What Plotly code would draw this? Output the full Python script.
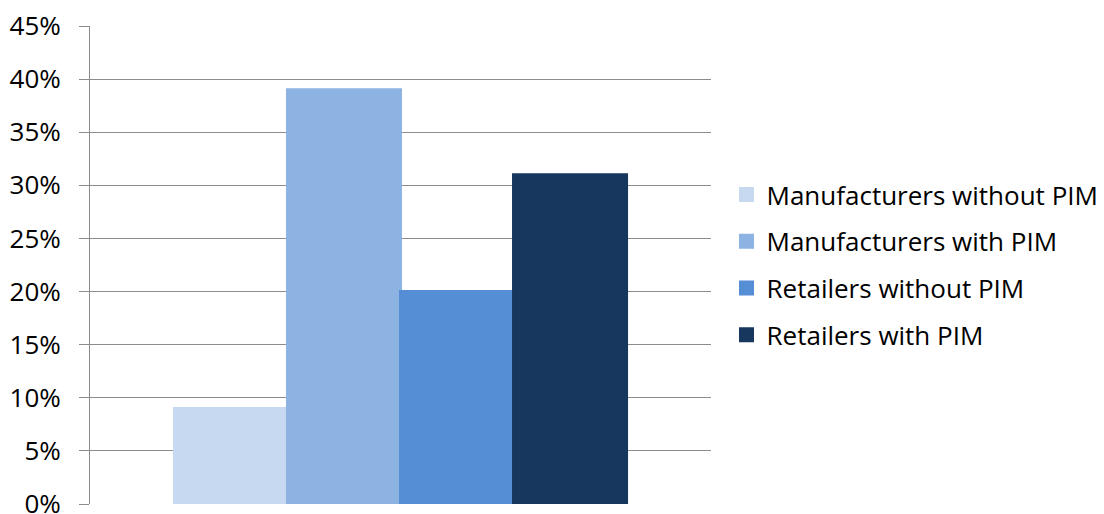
import plotly.graph_objects as go

categories = [""]
series_names = ["Manufacturers without PIM", "Manufacturers with PIM",
                "Retailers without PIM", "Retailers with PIM"]
series_values = [0.09, 0.39, 0.20, 0.31]
colors = ["#C6D9F0", "#8DB3E2", "#558ED5", "#17375E"]
tick_vals = [0, 0.05, 0.10, 0.15, 0.20, 0.25, 0.30, 0.35, 0.40, 0.45]
tick_text = ["0%", "5%", "10%", "15%", "20%", "25%", "30%", "35%", "40%", "45%"]

fig = go.Figure()
for i, (name, val, col) in enumerate(zip(series_names, series_values, colors)):
    fig.add_trace(go.Bar(x=categories, y=[val], name=name, marker_color=col,
                         marker_line=dict(width=3, color=col), legendgroup=f"g{i}"))

fig.update_layout(
    width=1096, height=506,
    margin=dict(l=82, r=393, t=18, b=10, autoexpand=False),
    barmode="group", bargap=0.272, bargroupgap=0,
    plot_bgcolor="white", paper_bgcolor="white",
    font=dict(family="Open Sans", size=26, color="#000000"),
    legend=dict(x=1.025, y=0.5, yanchor="middle", xanchor="left",
                tracegroupgap=10, font=dict(size=26), itemwidth=30),
    showlegend=True,
    xaxis=dict(showticklabels=False, showline=False, showgrid=False, zeroline=False),
    yaxis=dict(range=[0, 0.45], tickvals=tick_vals, ticktext=tick_text,
               showgrid=True, gridcolor="#8C8C8C", gridwidth=1,
               showline=True, linecolor="#8C8C8C", linewidth=1,
               ticks="outside", ticklen=10, tickcolor="#8C8C8C",
               zeroline=False, ticklabelstandoff=13, tickfont=dict(size=26),
               automargin=False, ticklabeloverflow="allow"),
)

fig.write_html("out.html")
